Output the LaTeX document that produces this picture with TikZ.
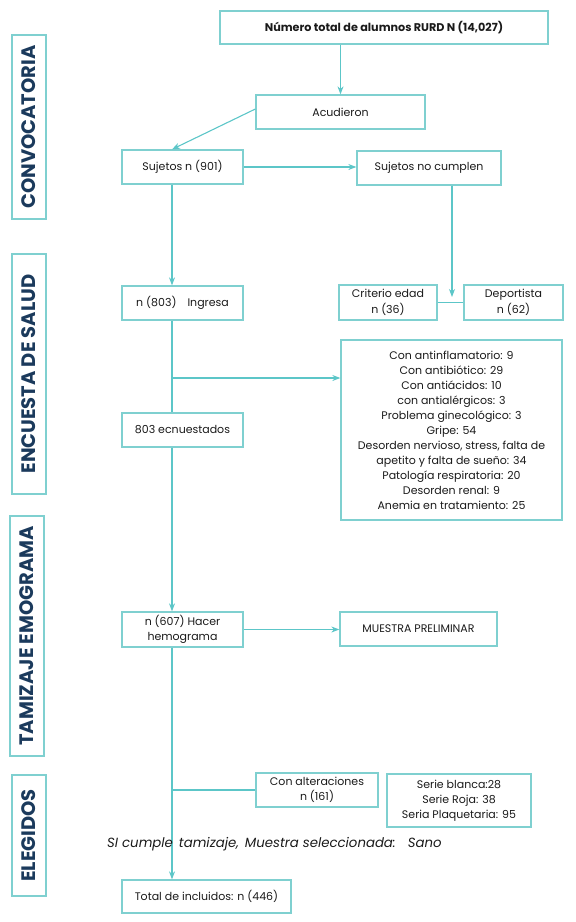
\documentclass[tikz,border=0pt]{standalone}
\usepackage{fontspec}
\setmainfont{Poppins}
\usetikzlibrary{arrows.meta,calc}
\definecolor{boxc}{HTML}{7FD0D0}
\definecolor{arrc}{HTML}{5CC6C8}
\definecolor{navy}{HTML}{1B3A5C}
\definecolor{txt}{HTML}{1A1A1A}
\begin{document}
\begin{tikzpicture}[x=1pt,y=-1pt,
  bx/.style={draw=boxc,line width=1.3pt,inner sep=0pt,align=center,text=txt,font=\fontsize{11}{15.5}\selectfont},
  side/.style={draw=boxc,line width=1.3pt,inner sep=0pt,rotate=90,text=navy,font=\fontsize{19.5}{20}\selectfont\bfseries},
  ln/.style={draw=arrc,line width=1.1pt},
  arr/.style={ln,-{Stealth[length=8pt,width=6pt,inset=2.5pt]}}]
\useasboundingbox (0,0) rectangle (576,922);
% side labels
\node[side,minimum width=184,minimum height=34] (s1) at (29,127) {CONVOCATORIA};
\node[side,minimum width=240,minimum height=34] (s2) at (29,374) {ENCUESTA DE SALUD};
\node[side,minimum width=240,minimum height=34] (s3) at (27,636) {TAMIZAJE EMOGRAMA};
\node[side,minimum width=121,minimum height=34] (s4) at (29,835.5) {ELEGIDOS};
% boxes
\node[bx,minimum width=328,minimum height=33,font=\fontsize{11.2}{14}\selectfont\bfseries] (b1) at (384,27.5) {Número total de alumnos RURD N (14,027)};
\node[bx,minimum width=169,minimum height=34] (acud) at (340.5,112) {Acudieron};
\node[bx,minimum width=121,minimum height=34] (suj) at (182.5,167) {Sujetos n (901)};
\node[bx,minimum width=144,minimum height=34] (noc) at (429,168) {Sujetos no cumplen};
\node[bx,minimum width=98,minimum height=35] (crit) at (388,302.5) {Criterio edad\\n (36)};
\node[bx,minimum width=99,minimum height=35] (dep) at (513.5,302.5) {Deportista\\n (62)};
\node[bx,minimum width=121,minimum height=34] (n803) at (182.5,303) {n (803)\hspace{1em}Ingresa};
\node[bx,minimum width=221,minimum height=180,font=\fontsize{11}{15}\selectfont] (list) at (451.5,430) {Con antinflamatorio: 9\\Con antibiótico: 29\\Con antiácidos: 10\\con antialérgicos: 3\\Problema ginecológico: 3\\Gripe: 54\\Desorden nervioso, stress, falta de\\apetito y falta de sueño: 34\\Patología respiratoria: 20\\Desorden renal: 9\\Anemia en tratamiento: 25};
\node[bx,minimum width=121,minimum height=34] (ecn) at (182.5,430) {803 ecnuestados};
\node[bx,minimum width=121,minimum height=35] (n607) at (182.5,629.5) {n (607) Hacer\\hemograma};
\node[bx,minimum width=157,minimum height=34] (mue) at (418.5,629) {MUESTRA PRELIMINAR};
\node[bx,minimum width=122,minimum height=34] (alt) at (317,790) {Con alteraciones\\n (161)};
\node[bx,minimum width=144,minimum height=53,font=\fontsize{11}{15}\selectfont] (ser) at (459,800.5) {Serie blanca:28\\Serie Roja: 38\\Seria Plaquetaria: 95};
\node[bx,minimum width=169,minimum height=33] (tot) at (206.5,896.5) {Total de incluidos: n (446)};
% coordinates
\coordinate (tk) at (172,0);
\coordinate (jn) at (452,297);
\coordinate (br1) at (172,378);
\coordinate (br2) at (172,790);
% connectors
\draw[arr] (acud.north |- b1.south) -- (acud.north);
\draw[arr] ($(acud.west)+(0,-3)$) -- (suj.north -| tk);
\draw[arr] (suj.east) -- (noc.west |- suj.east);
\draw[arr] (noc.south -| jn) -- (jn);
\draw[ln] (crit.east) -- (dep.west);
\draw[arr] (suj.south -| tk) -- (n803.north -| tk);
\draw[ln] (n803.south -| tk) -- (ecn.north -| tk);
\draw[arr] (br1) -- (list.west |- br1);
\draw[arr] (ecn.south -| tk) -- (n607.north -| tk);
\draw[arr] (n607.east) -- (mue.west |- n607.east);
\draw[arr] (n607.south -| tk) -- (tot.north -| tk);
\draw[ln] (br2) -- (alt.west);
\node[anchor=west,inner sep=0pt,text=txt,font=\fontsize{13.3}{15}\selectfont\itshape] (sel) at (107,844) {SI cumple\hspace{0.45em}tamizaje,\hspace{0.45em}Muestra seleccionada:\hspace{0.9em}Sano};
\end{tikzpicture}
\end{document}
